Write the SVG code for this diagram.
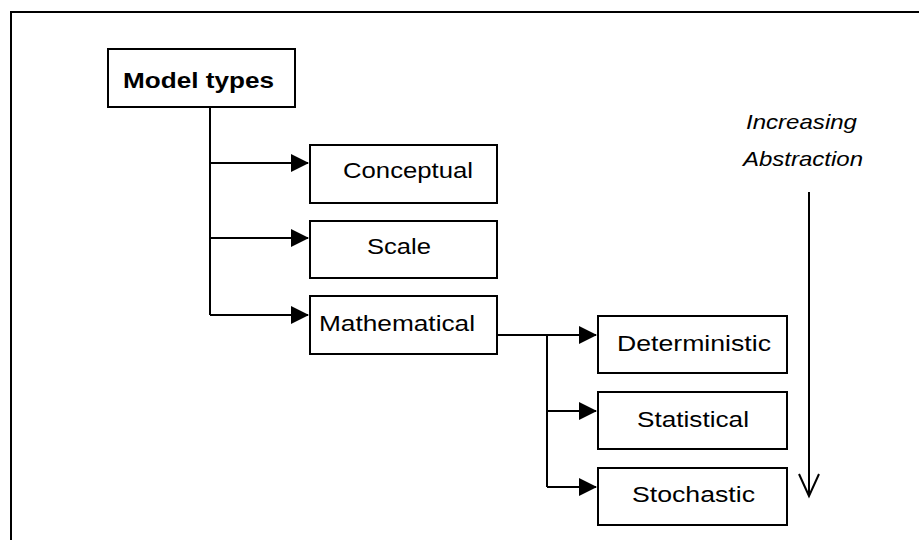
<svg xmlns="http://www.w3.org/2000/svg" width="919" height="540" viewBox="0 0 919 540">
<style>
.box{fill:#fff;stroke:#000;stroke-width:2}
.t{font-family:"Liberation Sans",Arial,sans-serif;font-size:22px;fill:#000}
.b{font-weight:bold}
.i{font-style:italic;font-size:21px}
.ln{fill:none;stroke:#000;stroke-width:2}
</style>
<defs>
<marker id="ah" markerWidth="18" markerHeight="18" refX="17" refY="9" viewBox="0 0 18 18" markerUnits="userSpaceOnUse" orient="auto">
<path d="M0,0 L18,9 L0,18 Z" fill="#000"/>
</marker>
</defs>
<rect width="919" height="540" fill="#fff"/>
<g id="frame"><path class="ln" d="M11,540 V12 H919"/></g>
<g id="connectors">
<path class="ln" d="M210,107 V315"/>
<path class="ln" d="M210,163 H308" marker-end="url(#ah)"/>
<path class="ln" d="M210,238 H308" marker-end="url(#ah)"/>
<path class="ln" d="M210,315 H308" marker-end="url(#ah)"/>
<path class="ln" d="M497,335 H596" marker-end="url(#ah)"/>
<path class="ln" d="M547,335 V487"/>
<path class="ln" d="M547,411 H596" marker-end="url(#ah)"/>
<path class="ln" d="M547,487 H596" marker-end="url(#ah)"/>
<path class="ln" d="M809,192 V496"/>
<path class="ln" d="M799,474 L809,496 L819,474"/>
</g>
<g id="model-types"><rect class="box" x="108" y="49" width="187" height="58"/><text class="t b" x="123" y="88" textLength="151" lengthAdjust="spacingAndGlyphs">Model types</text></g>
<g id="conceptual"><rect class="box" x="310" y="145" width="187" height="58"/><text class="t" x="343" y="178" textLength="130" lengthAdjust="spacingAndGlyphs">Conceptual</text></g>
<g id="scale"><rect class="box" x="310" y="221" width="187" height="57"/><text class="t" x="367" y="254" textLength="64" lengthAdjust="spacingAndGlyphs">Scale</text></g>
<g id="mathematical"><rect class="box" x="310" y="296" width="187" height="58"/><text class="t" x="319" y="331" textLength="156" lengthAdjust="spacingAndGlyphs">Mathematical</text></g>
<g id="deterministic"><rect class="box" x="598" y="316" width="189" height="57"/><text class="t" x="617" y="351" textLength="154" lengthAdjust="spacingAndGlyphs">Deterministic</text></g>
<g id="statistical"><rect class="box" x="598" y="392" width="189" height="57"/><text class="t" x="637" y="427" textLength="112" lengthAdjust="spacingAndGlyphs">Statistical</text></g>
<g id="stochastic"><rect class="box" x="598" y="468" width="189" height="57"/><text class="t" x="632" y="502" textLength="123" lengthAdjust="spacingAndGlyphs">Stochastic</text></g>
<g id="abstraction-label">
<text class="t i" x="746" y="129" textLength="111" lengthAdjust="spacingAndGlyphs">Increasing</text>
<text class="t i" x="743" y="166" textLength="120" lengthAdjust="spacingAndGlyphs">Abstraction</text>
</g>
</svg>
